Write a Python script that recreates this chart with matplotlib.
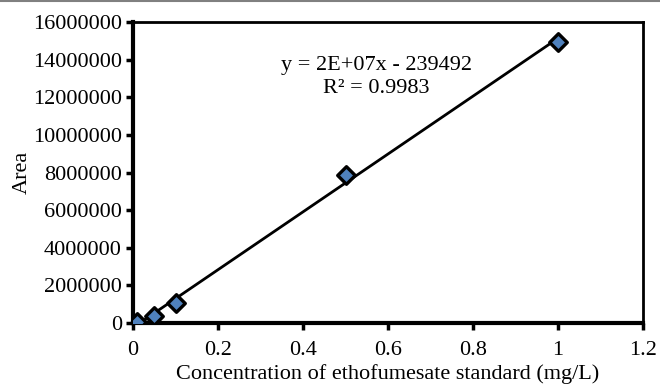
import numpy as np
import matplotlib
matplotlib.use("Agg")
import matplotlib.pyplot as plt

# Calibration data
conc = [0.01, 0.05, 0.1, 0.5, 1.0]
area = [50000, 380000, 1060000, 7870000, 14950000]
eq_text = "y = 2E+07x - 239492"
r2_text = "R² = 0.9983"

plt.rcParams["font.family"] = ["Liberation Serif", "DejaVu Serif"]
plt.rcParams["font.size"] = 16

fig = plt.figure(figsize=(6.6, 3.88), dpi=100)
ax = fig.add_axes([133 / 660, 1 - 323 / 388, (643 - 133) / 660, (323 - 22) / 388])

# linear trendline over the standards
b, a = np.polyfit(conc, area, 1)
xs = np.array([min(conc), max(conc)])
ax.plot(xs, a + b * xs, color="black", lw=2, zorder=2)
ax.scatter(conc, area, marker="D", s=80, facecolor="#4F81BD",
           edgecolor="black", linewidths=2.4, zorder=3)

ax.set_xlim(0, 1.2)
ax.set_ylim(0, 16000000)
ax.set_xticks([0, 0.2, 0.4, 0.6, 0.8, 1, 1.2])
ax.set_xticklabels(["0", "0.2", "0.4", "0.6", "0.8", "1", "1.2"])
ax.set_yticks(np.arange(0, 16000001, 2000000))
ax.set_yticklabels([f"{v:d}" for v in range(0, 16000001, 2000000)])
ax.tick_params(direction="out", length=5, width=2.5)
ax.tick_params(axis="x", pad=8)
ax.tick_params(axis="y", pad=3)

ax.spines["left"].set_linewidth(3)
ax.spines["bottom"].set_linewidth(3)
ax.spines["top"].set_linewidth(2)
ax.spines["right"].set_linewidth(2)

ax.set_xlabel("Concentration of ethofumesate standard (mg/L)", labelpad=3)
ax.set_ylabel("Area", labelpad=1)

ax.text(0.572, 13700000, eq_text, ha="center", va="center")
ax.text(0.572, 12450000, r2_text, ha="center", va="center")

# thin grey rule across the top of the figure
fig.add_artist(plt.Line2D([0, 1], [0.998, 0.998], transform=fig.transFigure,
                          color="#808080", lw=1.5))

fig.savefig("out.png", dpi=100)
